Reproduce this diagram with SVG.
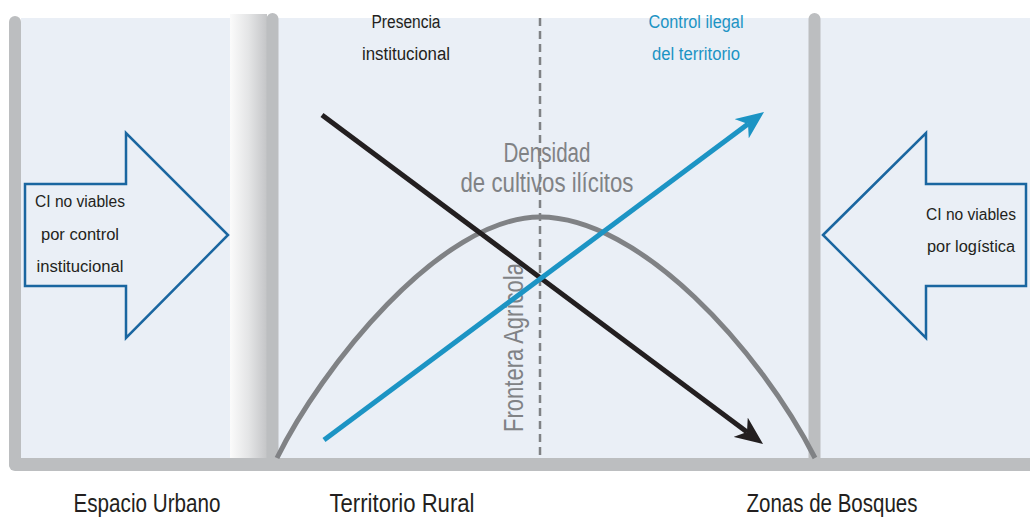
<svg xmlns="http://www.w3.org/2000/svg" width="1030" height="518" viewBox="0 0 1030 518">
  <style>
    text { font-family: "Liberation Sans", Arial, sans-serif; }
    .lbl { font-size: 16px; fill: #231f20; text-anchor: middle; }
    .top { font-size: 18px; text-anchor: middle; }
    .big { font-size: 25px; fill: #231f20; text-anchor: middle; }
    .gray { font-size: 27px; fill: #808285; text-anchor: middle; }
    .bar { stroke: #bcbec0; stroke-width: 12; stroke-linecap: round; fill: none; }
    .hollow { fill: #eaeff6; stroke: #1a66a0; stroke-width: 2.5; stroke-linejoin: miter; }
  </style>
  <defs>
    <linearGradient id="col" x1="0" y1="0" x2="1" y2="0">
      <stop offset="0" stop-color="#fbfbfb"/>
      <stop offset="0.5" stop-color="#e4e5e6"/>
      <stop offset="1" stop-color="#c4c5c7"/>
    </linearGradient>
    <marker id="headBlack" viewBox="0 0 28 24" refX="8" refY="12" markerWidth="28" markerHeight="24" markerUnits="userSpaceOnUse" orient="auto">
      <path d="M0,0 L28,12 L0,24 L8,12 Z" fill="#231f20"/>
    </marker>
    <marker id="headBlue" viewBox="0 0 28 24" refX="8" refY="12" markerWidth="28" markerHeight="24" markerUnits="userSpaceOnUse" orient="auto">
      <path d="M0,0 L28,12 L0,24 L8,12 Z" fill="#1c94c4"/>
    </marker>
  </defs>

  <g id="background">
    <rect x="21" y="18" width="1009" height="440" fill="#eaeff6"/>
    <rect x="230" y="14" width="37" height="444" fill="url(#col)"/>
    <line class="bar" x1="15" y1="22" x2="15" y2="464"/>
    <line class="bar" x1="272.5" y1="19" x2="272.5" y2="464"/>
    <line class="bar" x1="814.5" y1="19" x2="814.5" y2="464"/>
    <path d="M15,458 H1030 V471 H15 A6,6 0 0 1 9,465 V464 Z" fill="#bcbec0"/>
  </g>

  <g id="frontera">
    <line x1="540" y1="18" x2="540" y2="458" stroke="#808285" stroke-width="2.5" stroke-dasharray="8,5"/>
    <text class="gray" transform="translate(523,432) rotate(-90)" style="text-anchor:start" textLength="169" lengthAdjust="spacingAndGlyphs">Frontera Agrícola</text>
  </g>

  <g id="densidad">
    <text class="gray" x="547" y="162" textLength="87" lengthAdjust="spacingAndGlyphs">Densidad</text>
    <text class="gray" x="547" y="192" textLength="173" lengthAdjust="spacingAndGlyphs">de cultivos ilícitos</text>
  </g>

  <g id="connectors">
    <path id="curve" d="M277,458 C320,370 440,217 540,217 C640,217 760,350 815,458" fill="none" stroke="#808285" stroke-width="5"/>
    <line id="presencia-line" x1="322" y1="115" x2="747" y2="432" stroke="#231f20" stroke-width="5" marker-end="url(#headBlack)"/>
    <line id="control-line" x1="324" y1="440" x2="748" y2="124" stroke="#1c94c4" stroke-width="5" marker-end="url(#headBlue)"/>
  </g>

  <g id="presencia">
    <text class="top" x="406" y="28" fill="#231f20" textLength="69" lengthAdjust="spacingAndGlyphs">Presencia</text>
    <text class="top" x="406" y="60" fill="#231f20" textLength="88" lengthAdjust="spacingAndGlyphs">institucional</text>
  </g>

  <g id="control">
    <text class="top" x="696" y="28" fill="#1c94c4" textLength="95" lengthAdjust="spacingAndGlyphs">Control ilegal</text>
    <text class="top" x="696" y="60" fill="#1c94c4" textLength="88" lengthAdjust="spacingAndGlyphs">del territorio</text>
  </g>

  <g id="left-arrow">
    <polygon class="hollow" points="25,184 126,184 126,133 228,235 126,338 126,286 25,286"/>
    <text class="lbl" x="80" y="207" textLength="90" lengthAdjust="spacingAndGlyphs">CI no viables</text>
    <text class="lbl" x="80" y="240" textLength="78" lengthAdjust="spacingAndGlyphs">por control</text>
    <text class="lbl" x="80" y="272" textLength="87" lengthAdjust="spacingAndGlyphs">institucional</text>
  </g>

  <g id="right-arrow">
    <polygon class="hollow" points="823,235 926,133 926,184 1026,184 1026,286 926,286 926,338"/>
    <text class="lbl" x="971" y="220" textLength="90" lengthAdjust="spacingAndGlyphs">CI no viables</text>
    <text class="lbl" x="971" y="252" textLength="88" lengthAdjust="spacingAndGlyphs">por logística</text>
  </g>

  <g id="zone-labels">
    <text class="big" x="147" y="512" textLength="147" lengthAdjust="spacingAndGlyphs">Espacio Urbano</text>
    <text class="big" x="402" y="512" textLength="145" lengthAdjust="spacingAndGlyphs">Territorio Rural</text>
    <text class="big" x="832" y="512" textLength="171" lengthAdjust="spacingAndGlyphs">Zonas de Bosques</text>
  </g>
</svg>
